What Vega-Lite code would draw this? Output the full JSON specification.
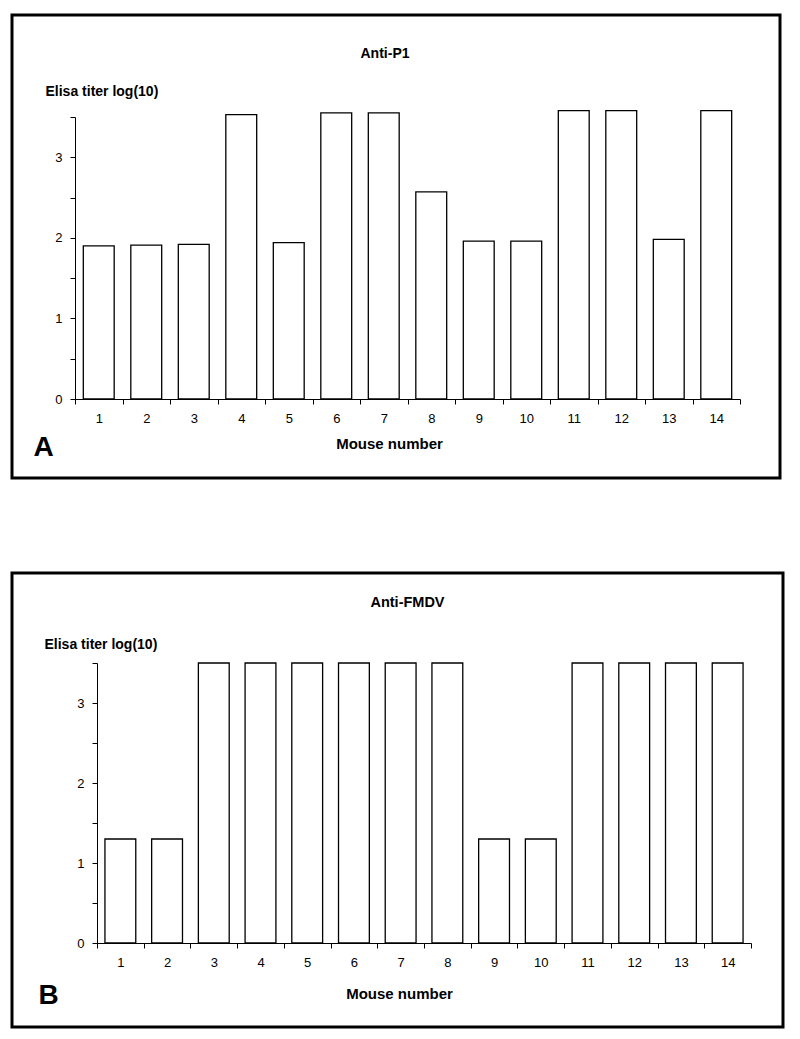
{
  "$schema": "https://vega.github.io/schema/vega-lite/v6.json",
  "padding": {"left": 10, "top": 13, "right": 0, "bottom": 0},
  "background": "white",
  "config": {
    "font": "Liberation Sans",
    "view": {"stroke": "black", "strokeWidth": 3},
    "axis": {
      "domainColor": "black", "tickColor": "black", "labelColor": "black", "titleColor": "black",
      "domainWidth": 1, "tickWidth": 1, "grid": false,
      "labelFontSize": 13, "labelFont": "Liberation Sans", "titleFont": "Liberation Sans"
    },
    "title": {"color": "black", "font": "Liberation Sans", "fontWeight": "bold"}
  },
  "spacing": 91,
  "vconcat": [
    {
      "title": {"text": "A", "orient": "bottom", "anchor": "start", "offset": -32, "dx": 23, "baseline": "middle", "fontSize": 28, "fontWeight": "bold"},
      "vconcat": [
        {
          "width": 768,
          "height": 463,
          "title": {"text": "Anti-P1", "offset": -53, "baseline": "middle", "dx": -11, "fontSize": 14},
          "data": {"values": [
            {"mouse": 1, "titer": 1.90}, {"mouse": 2, "titer": 1.91}, {"mouse": 3, "titer": 1.92},
            {"mouse": 4, "titer": 3.53}, {"mouse": 5, "titer": 1.94}, {"mouse": 6, "titer": 3.55},
            {"mouse": 7, "titer": 3.55}, {"mouse": 8, "titer": 2.57}, {"mouse": 9, "titer": 1.96},
            {"mouse": 10, "titer": 1.96}, {"mouse": 11, "titer": 3.58}, {"mouse": 12, "titer": 3.58},
            {"mouse": 13, "titer": 1.98}, {"mouse": 14, "titer": 3.58}
          ]},
          "mark": {"type": "bar", "fill": "white", "stroke": "black", "strokeWidth": 1.3, "width": {"band": 0.65}},
          "encoding": {
            "x": {
              "field": "mouse", "type": "ordinal",
              "scale": {"range": [63, 728], "paddingInner": 0, "paddingOuter": 0},
              "axis": {
                "orient": "bottom", "offset": -79, "tickBand": "extent", "labelAngle": 0,
                "tickSize": 5, "labelPadding": 8,
                "title": "Mouse number", "titleFontSize": 15, "titleFontWeight": "bold",
                "titleX": 377, "titleY": 44, "titleBaseline": "middle"
              }
            },
            "y": {
              "field": "titer", "type": "quantitative",
              "scale": {"domain": [0, 3.5], "range": [384, 102], "nice": false},
              "axis": {
                "orient": "left", "offset": -63,
                "values": [0, 0.5, 1, 1.5, 2, 2.5, 3, 3.5],
                "labelExpr": "datum.value % 1 === 0 ? format(datum.value, 'd') : ''",
                "tickSize": 5, "labelPadding": 8,
                "title": "Elisa titer log(10)", "titleAngle": 0, "titleAlign": "left",
                "titleBaseline": "middle", "titleX": -30, "titleY": 76,
                "titleFontSize": 14, "titleFontWeight": "bold"
              }
            }
          }
        }
      ]
    },
    {
      "title": {"text": "B", "orient": "bottom", "anchor": "start", "offset": -33, "dx": 28, "baseline": "middle", "fontSize": 28, "fontWeight": "bold"},
      "vconcat": [
        {
          "width": 771,
          "height": 454,
          "title": {"text": "Anti-FMDV", "offset": -44, "baseline": "middle", "dx": 10, "fontSize": 14.5},
          "data": {"values": [
            {"mouse": 1, "titer": 1.30}, {"mouse": 2, "titer": 1.30}, {"mouse": 3, "titer": 3.5},
            {"mouse": 4, "titer": 3.5}, {"mouse": 5, "titer": 3.5}, {"mouse": 6, "titer": 3.5},
            {"mouse": 7, "titer": 3.5}, {"mouse": 8, "titer": 3.5}, {"mouse": 9, "titer": 1.30},
            {"mouse": 10, "titer": 1.30}, {"mouse": 11, "titer": 3.5}, {"mouse": 12, "titer": 3.5},
            {"mouse": 13, "titer": 3.5}, {"mouse": 14, "titer": 3.5}
          ]},
          "mark": {"type": "bar", "fill": "white", "stroke": "black", "strokeWidth": 1.3, "width": {"band": 0.66}},
          "encoding": {
            "x": {
              "field": "mouse", "type": "ordinal",
              "scale": {"range": [85, 739], "paddingInner": 0, "paddingOuter": 0},
              "axis": {
                "orient": "bottom", "offset": -84, "tickBand": "extent", "labelAngle": 0,
                "tickSize": 5, "labelPadding": 8,
                "title": "Mouse number", "titleFontSize": 15, "titleFontWeight": "bold",
                "titleX": 387, "titleY": 50, "titleBaseline": "middle"
              }
            },
            "y": {
              "field": "titer", "type": "quantitative",
              "scale": {"domain": [0, 3.5], "range": [370, 90], "nice": false},
              "axis": {
                "orient": "left", "offset": -85,
                "values": [0, 0.5, 1, 1.5, 2, 2.5, 3, 3.5],
                "labelExpr": "datum.value % 1 === 0 ? format(datum.value, 'd') : ''",
                "tickSize": 5, "labelPadding": 8,
                "title": "Elisa titer log(10)", "titleAngle": 0, "titleAlign": "left",
                "titleBaseline": "middle", "titleX": -53, "titleY": 71,
                "titleFontSize": 14, "titleFontWeight": "bold"
              }
            }
          }
        }
      ]
    }
  ]
}
